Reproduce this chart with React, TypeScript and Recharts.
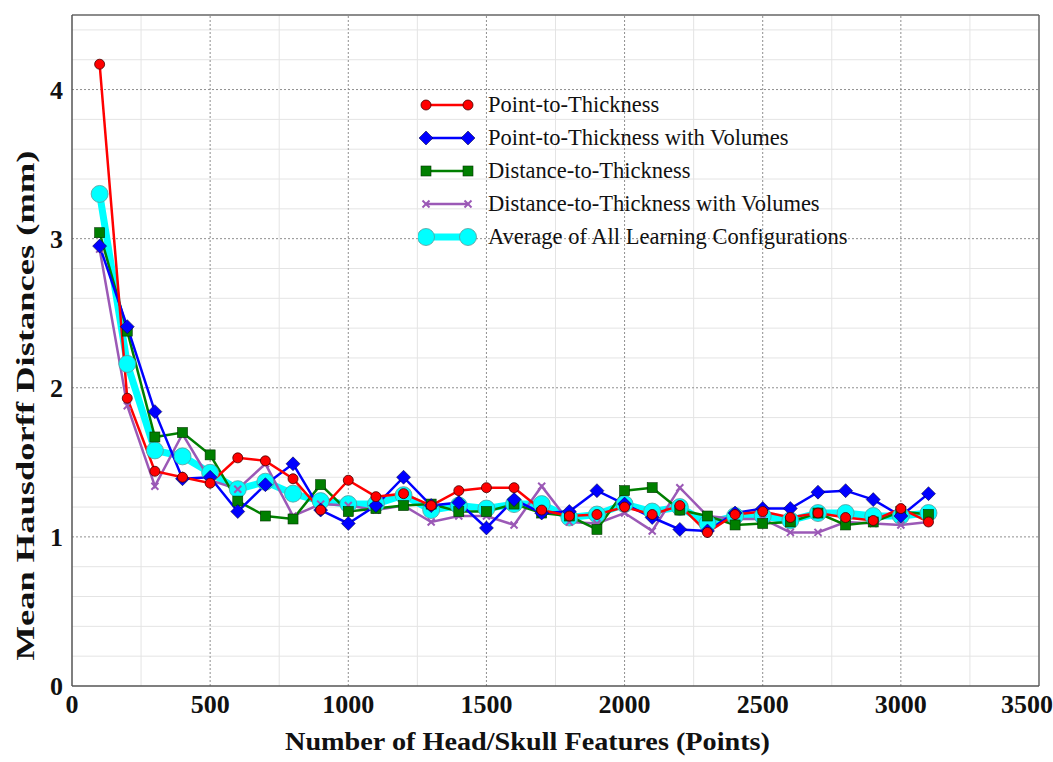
import React from 'react';
import { LineChart, Line, XAxis, YAxis, ReferenceLine, Legend, Label } from 'recharts';

// number of head/skull feature points (x positions)
const featurePoints = [100, 200, 300, 400, 500, 600, 700, 800, 900, 1000, 1100, 1200, 1300, 1400, 1500, 1600,
    1700, 1800, 1900, 2000, 2100, 2200, 2300, 2400, 2500, 2600, 2700, 2800, 2900, 3000, 3100];

// mean Hausdorff distances (mm) per configuration
const pointToThickness = [4.17, 1.93, 1.44, 1.40, 1.36, 1.53, 1.51, 1.39, 1.18, 1.38, 1.27, 1.29, 1.21, 1.31, 1.33, 1.33,
    1.18, 1.14, 1.15, 1.20, 1.15, 1.21, 1.03, 1.15, 1.17, 1.13, 1.16, 1.13, 1.11, 1.19, 1.10];
const pointToThicknessVol = [2.95, 2.41, 1.84, 1.39, 1.40, 1.17, 1.35, 1.49, 1.18, 1.09, 1.21, 1.40, 1.21, 1.23, 1.06, 1.25,
    1.16, 1.17, 1.31, 1.22, 1.13, 1.05, 1.04, 1.16, 1.19, 1.19, 1.30, 1.31, 1.25, 1.14, 1.29];
const distanceToThickness = [3.04, 2.38, 1.67, 1.70, 1.55, 1.24, 1.14, 1.12, 1.35, 1.17, 1.19, 1.21, 1.22, 1.17, 1.17, 1.22,
    1.16, 1.14, 1.05, 1.31, 1.33, 1.18, 1.14, 1.08, 1.09, 1.10, 1.16, 1.08, 1.10, 1.17, 1.15];
const distanceToThicknessVol = [2.93, 1.88, 1.34, 1.69, 1.38, 1.32, 1.49, 1.14, 1.22, 1.21, 1.18, 1.21, 1.10, 1.14, 1.14, 1.08,
    1.34, 1.10, 1.09, 1.16, 1.04, 1.33, 1.14, 1.12, 1.12, 1.03, 1.03, 1.10, 1.09, 1.08, 1.10];
const averageAll = [3.30, 2.16, 1.58, 1.54, 1.43, 1.32, 1.37, 1.29, 1.24, 1.22, 1.22, 1.28, 1.18, 1.21, 1.19, 1.22,
    1.22, 1.13, 1.15, 1.22, 1.17, 1.20, 1.09, 1.14, 1.14, 1.11, 1.16, 1.16, 1.14, 1.14, 1.16];

const xTicks = [0, 500, 1000, 1500, 2000, 2500, 3000, 3500];
const yTicks = [0, 1, 2, 3, 4];
const xMinorGrid = [250, 750, 1250, 1750, 2250, 2750, 3250];
const yMinorGrid = [0.2, 0.4, 0.6, 0.8, 1.2, 1.4, 1.6, 1.8, 2.2, 2.4, 2.6, 2.8, 3.2, 3.4, 3.6, 3.8, 4.2, 4.4];

const data = featurePoints.map((x, i) => ({
    x,
    ptt: pointToThickness[i],
    pttv: pointToThicknessVol[i],
    dtt: distanceToThickness[i],
    dttv: distanceToThicknessVol[i],
    avg: averageAll[i],
}));

const FONT = '"Liberation Serif", "Times New Roman", serif';

// marker shapes
const drawMarker = (kind: string, cx: number, cy: number, color: string, key?: string) => {
    if (kind === 'circle') return <circle key={key} cx={cx} cy={cy} r={5} fill={color} stroke="#400" strokeWidth={0.8} />;
    if (kind === 'bigcircle') return <circle key={key} cx={cx} cy={cy} r={8.5} fill={color} stroke="#5d9a9a" strokeWidth={0.8} />;
    if (kind === 'diamond')
        return <polygon key={key} points={`${cx},${cy - 7} ${cx + 7},${cy} ${cx},${cy + 7} ${cx - 7},${cy}`} fill={color} stroke="#002" strokeWidth={0.5} />;
    if (kind === 'square') return <rect key={key} x={cx - 5} y={cy - 5} width={10} height={10} fill={color} stroke="#030" strokeWidth={0.6} />;
    // cross
    return (
        <g key={key} stroke={color} strokeWidth={2}>
            <line x1={cx - 3.5} y1={cy - 3.5} x2={cx + 3.5} y2={cy + 3.5} />
            <line x1={cx - 3.5} y1={cy + 3.5} x2={cx + 3.5} y2={cy - 3.5} />
        </g>
    );
};

const series = [
    { key: 'ptt', name: 'Point-to-Thickness', color: '#ff0000', width: 2.5, marker: 'circle' },
    { key: 'pttv', name: 'Point-to-Thickness with Volumes', color: '#0000ff', width: 2.5, marker: 'diamond' },
    { key: 'dtt', name: 'Distance-to-Thickness', color: '#007f00', width: 2.5, marker: 'square' },
    { key: 'dttv', name: 'Distance-to-Thickness with Volumes', color: '#9b59b6', width: 2.5, marker: 'cross' },
    { key: 'avg', name: 'Average of All Learning Configurations', color: '#00ffff', width: 7, marker: 'bigcircle' },
];

// cyan average at the bottom, red on top
const drawOrder = ['avg', 'dttv', 'dtt', 'pttv', 'ptt'];

const LegendBox = () => (
    <div style={{ fontFamily: FONT, fontSize: 22.5, color: '#111' }}>
        {series.map(s => (
            <div key={s.key} style={{ display: 'flex', alignItems: 'center', height: 33 }}>
                <svg width={70} height={24}>
                    <line x1={8} y1={12} x2={50} y2={12} stroke={s.color} strokeWidth={s.key === 'avg' ? 7 : 2.5} />
                    {drawMarker(s.marker, 8, 12, s.color)}
                    {drawMarker(s.marker, 50, 12, s.color)}
                </svg>
                <span style={{ whiteSpace: 'nowrap' }}>{s.name}</span>
            </div>
        ))}
    </div>
);

const AxisTitle = ({ viewBox, text, vertical }: any) => {
    const { x, y, width, height } = viewBox;
    if (vertical) {
        const cx = 25;
        const cy = y + height / 2 + 55;
        return (
            <text x={cx} y={cy} transform={`rotate(-90, ${cx}, ${cy})`} textAnchor="middle" dominantBaseline="central"
                fontFamily={FONT} fontWeight="bold" fontSize={26} fill="#111" textLength={510} lengthAdjust="spacingAndGlyphs">
                {text}
            </text>
        );
    }
    return (
        <text x={x + width / 2 - 28} y={y + 64} textAnchor="middle" fontFamily={FONT} fontWeight="bold" fontSize={26}
            fill="#111" textLength={485} lengthAdjust="spacingAndGlyphs">
            {text}
        </text>
    );
};

export default function App() {
    return (
        <div style={{ position: 'absolute', left: 0, top: 0, width: 1053, height: 762, background: '#fff' }}>
            <LineChart width={1053} height={762} data={data} margin={{ top: 15, right: 14, left: 0, bottom: 0 }}>
                {/* minor grid */}
                {yMinorGrid.map(v => <ReferenceLine key={`ym${v}`} y={v} stroke="#e4e4e4" strokeWidth={1} />)}
                {xMinorGrid.map(v => <ReferenceLine key={`xm${v}`} x={v} stroke="#e4e4e4" strokeWidth={1} />)}
                {/* major grid */}
                {yTicks.slice(1).map(v => <ReferenceLine key={`yM${v}`} y={v} stroke="#8f8f8f" strokeDasharray="2 2" />)}
                {xTicks.slice(1, -1).map(v => <ReferenceLine key={`xM${v}`} x={v} stroke="#8f8f8f" strokeDasharray="2 2" />)}
                {/* frame */}
                <ReferenceLine y={4.5} stroke="#666" strokeWidth={1.5} />
                <ReferenceLine x={3500} stroke="#666" strokeWidth={1.5} />
                <XAxis dataKey="x" type="number" domain={[0, 3500]} ticks={xTicks} height={76} tickLine={false} tickSize={0}
                    tickMargin={9} axisLine={{ stroke: '#555', strokeWidth: 1.5 }}
                    tick={{ fill: '#111', fontFamily: FONT, fontWeight: 'bold', fontSize: 26 }}>
                    <Label content={(p: any) => <AxisTitle {...p} text="Number of Head/Skull Features (Points)" />} />
                </XAxis>
                <YAxis type="number" domain={[0, 4.5]} ticks={yTicks} width={72} tickLine={false} tickSize={0}
                    tickMargin={9} axisLine={{ stroke: '#555', strokeWidth: 1.5 }} allowDataOverflow
                    tick={{ fill: '#111', fontFamily: FONT, fontWeight: 'bold', fontSize: 26 }}>
                    <Label content={(p: any) => <AxisTitle {...p} vertical text="Mean  Hausdorff  Distances (mm)" />} />
                </YAxis>
                <Legend layout="vertical" align="center" verticalAlign="middle" content={() => <LegendBox />}
                    wrapperStyle={{ position: 'absolute', left: 418, top: 88, width: 480 }} />
                {drawOrder.map(k => {
                    const s = series.find(q => q.key === k)!;
                    return (
                        <Line key={k} type="linear" dataKey={k} name={s.name} stroke={s.color} strokeWidth={s.width}
                            isAnimationActive={false}
                            dot={(p: any) => drawMarker(s.marker, p.cx, p.cy, s.color, `${k}-${p.index}`)}
                            activeDot={false} />
                    );
                })}
            </LineChart>
        </div>
    );
}
